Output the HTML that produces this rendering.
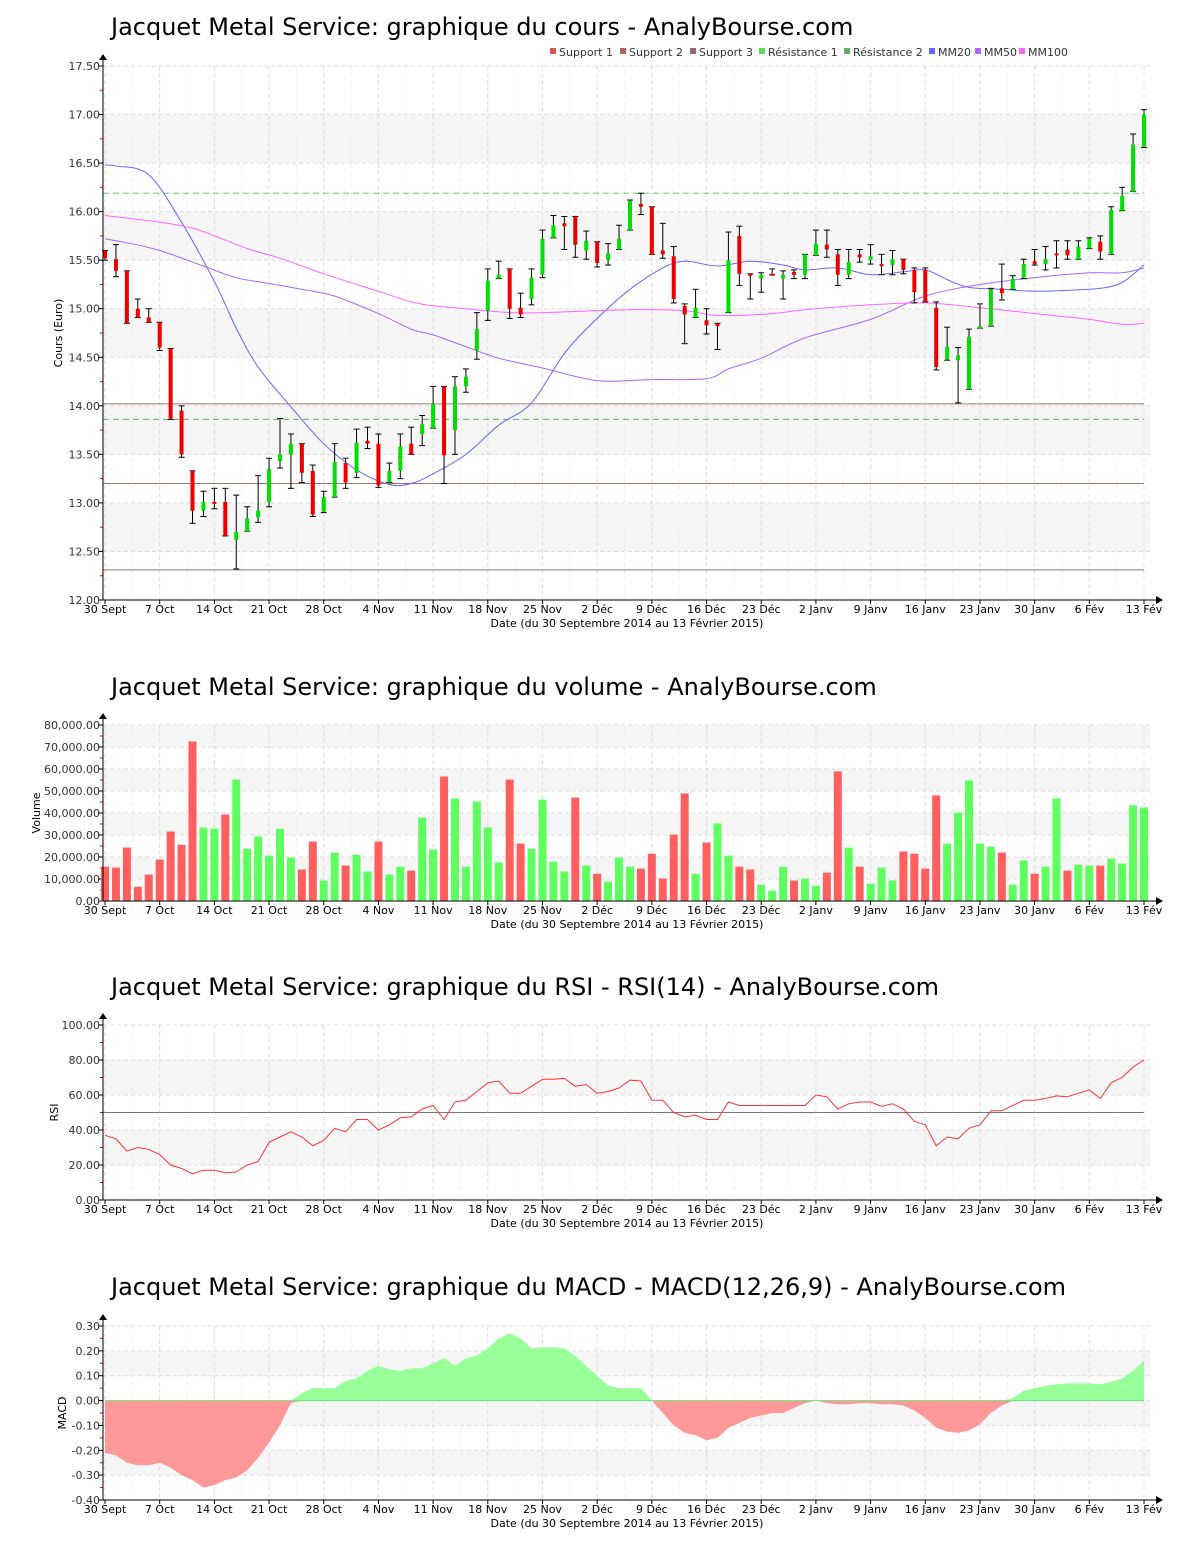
<!DOCTYPE html>
<html><head><meta charset="utf-8"><style>
html,body{margin:0;padding:0;background:#fff;}
svg{display:block;font-family:"DejaVu Sans","Liberation Sans",sans-serif;}
</style></head><body>
<svg id="s" width="1200" height="1550" viewBox="0 0 1200 1550" xmlns="http://www.w3.org/2000/svg"></svg>
<script>
const S=document.getElementById('s');let h='';
const X=i=>105+i*10.937;
const L=103,R=1150;
const dates=['30 Sept','7 Oct','14 Oct','21 Oct','28 Oct','4 Nov','11 Nov','18 Nov','25 Nov','2 Déc','9 Déc','16 Déc','23 Déc','2 Janv','9 Janv','16 Janv','23 Janv','30 Janv','6 Fév','13 Fév'];
function frame(o){
 const {title,ty,top,bot,vmin,vmax,step,bands,fmt,ylab,ylx}=o;
 const Y=v=>bot-(v-vmin)/(vmax-vmin)*(bot-top);
 h+=`<text x="111" y="${ty}" font-size="24" fill="#000">${title}</text>`;
 bands.forEach(b=>{h+=`<rect x="${L}" y="${Y(b[1])}" width="${R-L}" height="${Y(b[0])-Y(b[1])}" fill="#f6f6f6"/>`;});
 for(let v=vmin;v<=vmax+1e-9;v+=step){const y=Y(v);
  h+=`<line x1="${L}" x2="${R}" y1="${y}" y2="${y}" stroke="#ddd" stroke-dasharray="4,3"/>`;
  h+=`<text x="100" y="${y+4}" font-size="11" text-anchor="end" fill="#333">${fmt(v)}</text>`;
  h+=`<line x1="${L-4}" x2="${L}" y1="${y}" y2="${y}" stroke="#000"/>`;
  const ym=Y(v+step/2); if(v+step/2<vmax) h+=`<line x1="${L-3}" x2="${L}" y1="${ym}" y2="${ym}" stroke="#e00"/>`;
 }
 for(let k=0;k<20;k++){const x=X(k*5);
  h+=`<line x1="${x}" x2="${x}" y1="${top}" y2="${bot}" stroke="#ddd" stroke-dasharray="4,3"/>`;
  if(k<19){const xm=X(k*5+2.5);h+=`<line x1="${xm}" x2="${xm}" y1="${top}" y2="${bot}" stroke="#eee" stroke-dasharray="4,3"/>`;}
  h+=`<line x1="${x}" x2="${x}" y1="${bot}" y2="${bot+4}" stroke="#000"/>`;
  h+=`<text x="${x}" y="${bot+13}" font-size="11" text-anchor="middle" fill="#000">${dates[k]}</text>`;
 }
 h+=`<text x="627" y="${bot+27}" font-size="11" text-anchor="middle" fill="#000">Date (du 30 Septembre 2014 au 13 Février 2015)</text>`;
 h+=`<text transform="translate(${ylx},${(top+bot)/2}) rotate(-90)" font-size="11" text-anchor="middle">${ylab}</text>`;
 return Y;
}
function axes(top,bot){
 h+=`<line x1="${L}" x2="${L}" y1="${top-8}" y2="${bot}" stroke="#000"/><polygon points="${L-4},${top-6} ${L+4},${top-6} ${L},${top-12}" fill="#000"/>`;
 h+=`<line x1="${L}" x2="1158" y1="${bot}" y2="${bot}" stroke="#000"/><polygon points="1156,${bot-4} 1156,${bot+4} 1163,${bot}" fill="#000"/>`;
}
function smooth(P){
 let d=`M${P[0][0].toFixed(1)},${P[0][1].toFixed(1)}`;
 for(let i=0;i<P.length-1;i++){
  const p0=P[Math.max(i-1,0)],p1=P[i],p2=P[i+1],p3=P[Math.min(i+2,P.length-1)];
  const c1=[p1[0]+(p2[0]-p0[0])/6,p1[1]+(p2[1]-p0[1])/6],c2=[p2[0]-(p3[0]-p1[0])/6,p2[1]-(p3[1]-p1[1])/6];
  d+=` C${c1[0].toFixed(1)},${c1[1].toFixed(1)} ${c2[0].toFixed(1)},${c2[1].toFixed(1)} ${p2[0].toFixed(1)},${p2[1].toFixed(1)}`;
 }
 return d;
}
/* PRICE */
let Y=frame({title:'Jacquet Metal Service: graphique du cours - AnalyBourse.com',ty:35,top:66,bot:600,vmin:12,vmax:17.5,step:0.5,bands:[[16.5,17],[15.5,16],[14.5,15],[13.5,14],[12.5,13]],fmt:v=>v.toFixed(2),ylab:'Cours (Euro)',ylx:62});
[[14.02,'#b07070',0],[13.2,'#a07070',0],[12.31,'#907070',0],[16.19,'#66cc66',1],[13.86,'#66aa66',1]].forEach(l=>{
 h+=`<line x1="${L}" x2="1144" y1="${Y(l[0])}" y2="${Y(l[0])}" stroke="${l[1]}" ${l[2]?'stroke-dasharray="6,4"':''}/>`;});
const ma=(pts,c)=>{h+=`<path fill="none" stroke="${c}" stroke-width="1" d="${smooth(pts.map(p=>[X(p[0]),Y(p[1])]))}"/>`;};
ma([[0,16.48],[1,16.47],[4,16.38],[7,15.89],[10,15.28],[12,14.8],[14,14.4],[17,13.99],[20,13.61],[23,13.34],[26,13.19],[28,13.2],[30,13.3],[33,13.5],[36,13.8],[39,14.03],[42,14.54],[45,14.9],[48,15.2],[51,15.42],[53,15.49],[56,15.44],[59,15.49],[62,15.45],[64,15.40],[67,15.42],[70,15.35],[73,15.38],[75,15.4],[77,15.3],[79,15.22],[82,15.2],[85,15.18],[88,15.19],[91,15.21],[93,15.27],[95,15.45]],'#6666ff');
ma([[0,15.72],[2,15.68],[5,15.60],[9,15.44],[12,15.32],[15,15.26],[18,15.2],[21,15.13],[25,14.95],[28,14.79],[30,14.73],[33,14.61],[36,14.49],[40,14.39],[45,14.26],[50,14.27],[55,14.28],[57,14.38],[60,14.49],[64,14.7],[70,14.89],[75,15.13],[80,15.25],[85,15.32],[90,15.37],[93,15.37],[95,15.42]],'#aa66ff');
ma([[0,15.96],[5,15.89],[8,15.83],[10,15.75],[13,15.62],[16,15.52],[20,15.36],[25,15.18],[28,15.07],[30,15.03],[32,15.01],[37,14.96],[40,14.96],[48,14.99],[53,14.98],[56,14.93],[61,14.95],[64,14.99],[70,15.04],[75,15.06],[80,15.01],[85,14.95],[90,14.89],[93,14.84],[95,14.85]],'#ff66ff');
const C=[[15.60,15.52,15.60,15.50],[15.51,15.39,15.66,15.33],[15.39,14.85,15.39,14.85],[15.0,14.91,15.10,14.91],[14.91,14.86,15.0,14.86],[14.86,14.60,14.86,14.57],[14.59,13.87,14.59,13.86],[13.95,13.50,14.0,13.47],[13.33,12.92,13.33,12.79],[12.92,13.01,13.12,12.86],[13.01,12.99,13.15,12.94],[13.01,12.66,13.15,12.66],[12.62,12.70,13.08,12.32],[12.71,12.84,12.96,12.71],[12.85,12.92,13.28,12.80],[13.01,13.35,13.46,12.96],[13.43,13.50,13.87,13.36],[13.50,13.61,13.71,13.15],[13.61,13.31,13.61,13.21],[13.33,12.88,13.39,12.86],[12.91,13.06,13.12,12.90],[13.06,13.42,13.61,13.06],[13.41,13.21,13.46,13.15],[13.31,13.62,13.76,13.26],[13.64,13.61,13.78,13.56],[13.61,13.18,13.71,13.16],[13.21,13.33,13.41,13.21],[13.33,13.58,13.71,13.25],[13.61,13.50,13.78,13.50],[13.71,13.81,13.90,13.59],[13.77,14.02,14.20,13.77],[14.20,13.49,14.20,13.20],[13.75,14.20,14.30,13.50],[14.20,14.30,14.38,14.14],[14.57,14.79,14.96,14.48],[14.98,15.29,15.41,14.88],[15.31,15.35,15.49,15.31],[15.41,15.00,15.41,14.90],[15.01,14.94,15.16,14.91],[15.10,15.32,15.41,15.04],[15.35,15.72,15.81,15.32],[15.73,15.86,15.96,15.73],[15.88,15.85,15.95,15.61],[15.95,15.66,15.95,15.53],[15.60,15.70,15.80,15.51],[15.69,15.47,15.69,15.43],[15.50,15.57,15.67,15.45],[15.61,15.72,15.86,15.61],[15.81,16.11,16.12,15.81],[16.08,16.05,16.19,15.97],[16.05,15.56,16.05,15.56],[15.60,15.56,15.88,15.52],[15.54,15.10,15.64,15.06],[15.03,14.94,15.05,14.64],[14.91,15.01,15.20,14.91],[14.88,14.83,15.00,14.74],[14.85,14.82,14.85,14.58],[14.96,15.50,15.79,14.96],[15.75,15.36,15.85,15.24],[15.36,15.35,15.36,15.10],[15.31,15.35,15.37,15.17],[15.36,15.35,15.41,15.35],[15.31,15.35,15.39,15.10],[15.38,15.35,15.40,15.31],[15.35,15.56,15.56,15.31],[15.55,15.67,15.81,15.55],[15.66,15.61,15.81,15.53],[15.56,15.35,15.61,15.24],[15.35,15.48,15.61,15.31],[15.56,15.53,15.61,15.48],[15.50,15.54,15.66,15.46],[15.46,15.44,15.56,15.35],[15.45,15.51,15.60,15.35],[15.51,15.40,15.51,15.36],[15.40,15.17,15.42,15.06],[15.40,15.07,15.42,15.07],[15.01,14.40,15.07,14.37],[14.48,14.61,14.81,14.47],[14.47,14.52,14.60,14.03],[14.17,14.71,14.79,14.17],[14.80,14.82,15.05,14.80],[14.82,15.20,15.21,14.82],[15.21,15.16,15.46,15.09],[15.20,15.31,15.34,15.20],[15.32,15.46,15.51,15.31],[15.49,15.46,15.61,15.45],[15.46,15.51,15.64,15.40],[15.57,15.55,15.70,15.42],[15.61,15.55,15.70,15.51],[15.51,15.64,15.70,15.51],[15.62,15.72,15.73,15.62],[15.69,15.59,15.75,15.51],[15.56,16.02,16.05,15.56],[16.01,16.16,16.25,16.01],[16.21,16.69,16.80,16.21],[16.67,17.00,17.05,16.66]];
C.forEach((c,i)=>{const x=X(i);const [o,cl,hi,lo]=c;
 h+=`<line x1="${x}" x2="${x}" y1="${Y(hi)}" y2="${Y(lo)}" stroke="#000"/>`;
 h+=`<line x1="${x-3}" x2="${x+3}" y1="${Y(hi)}" y2="${Y(hi)}" stroke="#000"/><line x1="${x-3}" x2="${x+3}" y1="${Y(lo)}" y2="${Y(lo)}" stroke="#000"/>`;
 const t=Y(Math.max(o,cl)),b=Y(Math.min(o,cl));
 h+=`<rect x="${x-2}" y="${t}" width="4" height="${Math.max(b-t,2)}" fill="${cl>=o?'#00e000':'#ee0000'}"/>`;});
axes(66,600);
[['Support 1','#dd5555',550],['Support 2','#bb6060',620],['Support 3','#996666',690],['Résistance 1','#55dd55',759],['Résistance 2','#66aa66',844],['MM20','#6666ff',929],['MM50','#aa66ff',975],['MM100','#ff66ff',1019]].forEach(l=>{
 h+=`<rect x="${l[2]}" y="48" width="6" height="6" fill="${l[1]}"/><text x="${l[2]+9}" y="56" font-size="11" fill="#333">${l[0]}</text>`;});
/* VOLUME */
Y=frame({title:'Jacquet Metal Service: graphique du volume - AnalyBourse.com',ty:695,top:725,bot:901,vmin:0,vmax:80000,step:10000,bands:[[70000,80000],[50000,60000],[30000,40000],[10000,20000]],fmt:v=>v.toLocaleString('en-US',{minimumFractionDigits:2}),ylab:'Volume',ylx:40});
const V='15.6R 15.2R 24.3R 6.5R 12R 18.8R 31.6R 25.6R 72.5R 33.4G 32.9G 39.3R 55.2G 23.8G 29.3G 20.6G 32.9G 19.7G 14.3R 27R 9.3G 22G 16.1R 21.1G 13.4G 27R 12G 15.6G 13.8R 37.9G 23.4G 56.6R 46.6G 15.6G 45.2G 33.4G 17.5G 55.2R 26.1R 23.8G 46.1G 17.9G 13.4G 47R 16.1G 12.4R 8.8G 19.7G 15.6G 14.7R 21.5R 10.2R 30.2R 48.9R 12.4G 26.6R 35.2G 20.6G 15.6R 14.3R 7.4G 4.7G 15.6G 9.3R 10.2G 7G 12.9R 58.9R 24.3G 15.6R 7.9G 15.2G 9.3G 22.5R 21.5R 14.7R 48R 26.1G 40.2G 54.8G 26.1G 24.7G 22R 7.4G 18.4G 12.4R 15.6G 46.6G 13.8R 16.5G 16.1G 16.1R 19.3G 17G 43.5G 42.5G'.split(' ');
V.forEach((s,i)=>{const v=parseFloat(s)*1000;const x=X(i);
 h+=`<rect x="${x-4}" y="${Y(v)}" width="8" height="${901-Y(v)}" fill="${s.endsWith('R')?'#ff5f5f':'#5fff5f'}"/>`;});
axes(725,901);
/* RSI */
Y=frame({title:'Jacquet Metal Service: graphique du RSI - RSI(14) - AnalyBourse.com',ty:995,top:1025,bot:1200,vmin:0,vmax:100,step:20,bands:[[60,80],[20,40]],fmt:v=>v.toFixed(2),ylab:'RSI',ylx:58});
h+=`<line x1="${L}" x2="1144" y1="${Y(50)}" y2="${Y(50)}" stroke="#777"/>`;
const RS=[37,35,28,30,29,26,20,18,15,17,17,15.5,16,20,22,33,36,39,36,31,34,41,39,46,46,40,43,47,47.5,52,54,46,56,57,62,67,68,61,61,65,69,69,69.5,65,66,61,62,64,68.5,68,57,57,50,47.5,48.5,46,46,56,54,54,54,54,54,54,54,60,59,52,55,56,56,53.5,55,52,45,43,31,36,35,41,43,51,51,54,57,57,58,59.5,59,61,63,58,67,70,76,80];
h+=`<polyline fill="none" stroke="#ff3333" points="${RS.map((v,i)=>X(i).toFixed(1)+','+Y(v).toFixed(1)).join(' ')}"/>`;
axes(1025,1200);
/* MACD */
Y=frame({title:'Jacquet Metal Service: graphique du MACD - MACD(12,26,9) - AnalyBourse.com',ty:1295,top:1326,bot:1500,vmin:-0.4,vmax:0.3,step:0.1,bands:[[0.1,0.2],[-0.1,0],[-0.3,-0.2]],fmt:v=>(Math.abs(v)<1e-9?0:v).toFixed(2),ylab:'MACD',ylx:66});
const M=[-0.21,-0.22,-0.25,-0.26,-0.26,-0.25,-0.27,-0.30,-0.32,-0.35,-0.34,-0.32,-0.31,-0.28,-0.23,-0.17,-0.10,-0.01,0.03,0.05,0.05,0.05,0.08,0.09,0.12,0.14,0.125,0.12,0.13,0.13,0.15,0.17,0.14,0.17,0.18,0.21,0.25,0.27,0.25,0.21,0.215,0.215,0.21,0.18,0.14,0.10,0.06,0.05,0.05,0.05,0.0,-0.05,-0.10,-0.13,-0.14,-0.16,-0.15,-0.11,-0.09,-0.07,-0.06,-0.05,-0.05,-0.03,-0.01,0.0,-0.01,-0.015,-0.015,-0.01,-0.01,-0.015,-0.015,-0.02,-0.04,-0.07,-0.11,-0.125,-0.13,-0.12,-0.095,-0.05,-0.02,0.01,0.04,0.05,0.06,0.065,0.07,0.07,0.07,0.065,0.075,0.09,0.12,0.16];
const y0=Y(0);
let pp=M.map((v,i)=>X(i).toFixed(1)+','+Y(Math.max(v,0)).toFixed(1)).join(' ');
let pn=M.map((v,i)=>X(i).toFixed(1)+','+Y(Math.min(v,0)).toFixed(1)).join(' ');
h+=`<polygon fill="#99ff99" points="${X(0)},${y0} ${pp} ${X(95)},${y0}"/>`;
h+=`<polygon fill="#ff9999" points="${X(0)},${y0} ${pn} ${X(95)},${y0}"/>`;
h+=`<line x1="${X(0)}" x2="${X(95)}" y1="${y0}" y2="${y0}" stroke="#77dd77"/>`;
axes(1326,1500);
S.innerHTML=h;
</script>
</body></html>
